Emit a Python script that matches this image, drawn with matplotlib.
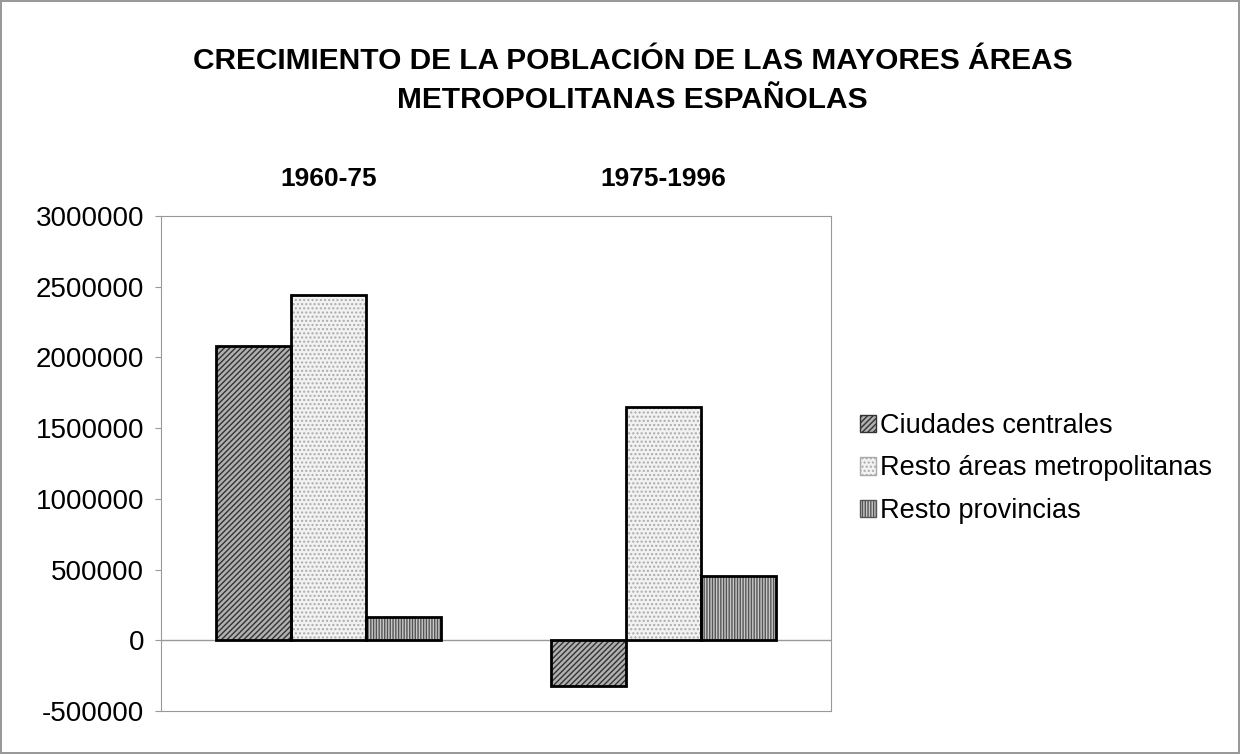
import numpy as np
import matplotlib.pyplot as plt
import matplotlib as mpl

plt.rcParams['font.family'] = ['Liberation Sans', 'DejaVu Sans']
mpl.rcParams['hatch.linewidth'] = 1.0

periods = ['1960-75', '1975-1996']
series = ['Ciudades centrales', 'Resto áreas metropolitanas', 'Resto provincias']
ciudades = [2080000, -325000]
resto_areas = [2440000, 1650000]
resto_prov = [163000, 453000]

values = [ciudades, resto_areas, resto_prov]
faces = ['#b0b0b0', '#f2f2f2', '#c8c8c8']
hatches = ['//////', '....', '||||||']
hatch_cols = ['#333333', '#aaaaaa', '#555555']

fig = plt.figure(figsize=(12.4, 7.54), dpi=100)
fig.patch.set_edgecolor('#999999')
fig.patch.set_linewidth(1.5)
ax = fig.add_axes([161/1240, 1-711/754, 670/1240, 495/754])

x = np.arange(len(periods))
w = 0.224
for i, (vals, fc, h, hc) in enumerate(zip(values, faces, hatches, hatch_cols)):
    ax.bar(x + (i - 1) * w, vals, w, facecolor=fc, edgecolor=hc, hatch=h,
           linewidth=0, label=series[i], zorder=2)
    ax.bar(x + (i - 1) * w, vals, w, facecolor='none', edgecolor='black',
           linewidth=2, zorder=3)

ax.set_xlim(-0.5, 1.5)
ax.set_ylim(-500000, 3000000)
ax.set_yticks(np.arange(-500000, 3000001, 500000))
ax.set_yticklabels([str(v) for v in range(-500000, 3000001, 500000)], fontsize=20)
ax.axhline(0, color='#999999', linewidth=1, zorder=1)
ax.xaxis.tick_top()
ax.set_xticks(x)
ax.set_xticklabels(periods, fontsize=19, fontweight='bold')
ax.tick_params(axis='x', length=0, pad=18)
ax.tick_params(axis='y', length=4, color='#999999', pad=8)
for s in ax.spines.values():
    s.set_color('#999999')

leg = ax.legend(loc='center left', bbox_to_anchor=(1.043, 0.49), frameon=False,
                fontsize=19.5, handlelength=0.6, handleheight=0.6, handletextpad=0.15,
                labelspacing=0.6, borderpad=0, borderaxespad=0)
for p in leg.get_patches():
    p.set_linewidth(1)

fig.text(0.51, 0.893, 'CRECIMIENTO DE LA POBLACIÓN DE LAS MAYORES ÁREAS\nMETROPOLITANAS ESPAÑOLAS',
         ha='center', va='center', fontsize=21.5, fontweight='bold', linespacing=1.5)

fig.savefig('out.png', dpi=100)
